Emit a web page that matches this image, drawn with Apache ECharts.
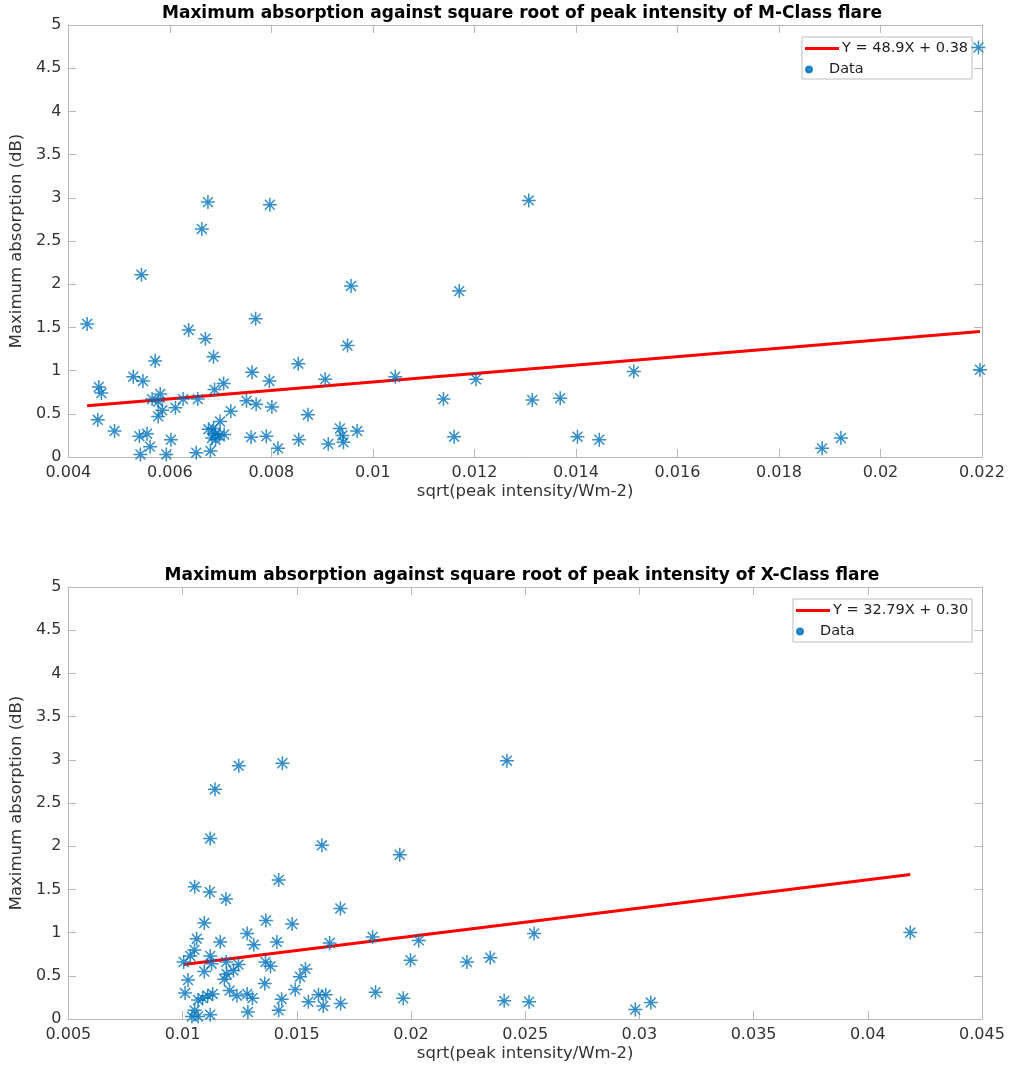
<!DOCTYPE html>
<html>
<head>
<meta charset="utf-8">
<script src="https://cdn.jsdelivr.net/npm/echarts@6/dist/echarts.min.js"></script>
<style>
  html, body { margin: 0; padding: 0; background: #ffffff; }
  #chart { width: 1009px; height: 1074px; }
</style>
</head>
<body>
<div id="chart"></div>
<script>
// ---- M-class flares: sqrt(peak intensity) vs maximum absorption (dB)
const mClassX = [
  0.00675, 0.00797, 0.00663, 0.00544, 0.00957, 0.00437, 0.00769, 0.00637, 0.00670, 0.00686,
  0.00950, 0.00571, 0.00853, 0.00528, 0.00460, 0.00465, 0.00547, 0.00762, 0.00796, 0.00906,
  0.00706, 0.00688, 0.00581, 0.00565, 0.00577, 0.00626, 0.00655, 0.00751, 0.00770, 0.00801,
  0.00611, 0.00585, 0.00577, 0.00720, 0.00872, 0.00458, 0.00491, 0.00699, 0.00676, 0.00686,
  0.00690, 0.00697, 0.00707, 0.00683, 0.00690, 0.00540, 0.00555, 0.00561, 0.00542, 0.00602,
  0.00593, 0.00652, 0.00680, 0.00760, 0.00790, 0.00813, 0.00854, 0.00912, 0.00935, 0.00940,
  0.00942, 0.00969, 0.01044, 0.01307, 0.01170, 0.01139, 0.01203, 0.01160, 0.01314, 0.01369,
  0.01403, 0.01446, 0.01514, 0.02193, 0.02196, 0.01885, 0.01922
];
const mClassY = [
  2.95, 2.92, 2.64, 2.11, 1.98, 1.54, 1.60, 1.47, 1.37, 1.16,
  1.29, 1.11, 1.08, 0.93, 0.81, 0.74, 0.88, 0.98, 0.88, 0.90,
  0.85, 0.78, 0.73, 0.67, 0.64, 0.67, 0.67, 0.65, 0.61, 0.58,
  0.57, 0.54, 0.47, 0.53, 0.49, 0.43, 0.30, 0.41, 0.32, 0.33,
  0.27, 0.25, 0.26, 0.22, 0.20, 0.24, 0.27, 0.12, 0.03, 0.20,
  0.03, 0.05, 0.07, 0.23, 0.24, 0.10, 0.20, 0.15, 0.33, 0.25,
  0.17, 0.30, 0.93, 2.97, 1.92, 0.67, 0.90, 0.235, 0.66, 0.68,
  0.235, 0.20, 0.99, 4.74, 1.01, 0.10, 0.22
];
const mClassSlope = 48.9;
const mClassIntercept = 0.38;
const mClassTicksX = [0.004, 0.006, 0.008, 0.01, 0.012, 0.014, 0.016, 0.018, 0.02, 0.022];

// ---- X-class flares
const xClassX = [
  0.01142, 0.01121, 0.01053, 0.01119, 0.01190, 0.01421, 0.01610, 0.01095, 0.01365, 0.01480,
  0.01062, 0.01165, 0.01283, 0.01312, 0.01413, 0.01052, 0.01034, 0.01005, 0.01121, 0.01127,
  0.01191, 0.01245, 0.01363, 0.01385, 0.01095, 0.01223, 0.01193, 0.01183, 0.01024, 0.01538,
  0.01514, 0.01493, 0.01360, 0.01011, 0.01206, 0.01238, 0.01283, 0.01306, 0.01132, 0.01110,
  0.01088, 0.01068, 0.01434, 0.01421, 0.01286, 0.01121, 0.01053, 0.01041, 0.01068, 0.01551,
  0.01595, 0.01627, 0.01616, 0.01692, 0.01951, 0.01691, 0.01644, 0.01832, 0.02034, 0.01998,
  0.02245, 0.02347, 0.02539, 0.01845, 0.01966, 0.02408, 0.02517, 0.04186, 0.02982, 0.03050,
  0.01246, 0.01437, 0.02420
];
const xClassY = [
  2.66, 2.09, 1.53, 1.47, 1.39, 1.61, 2.01, 1.11, 1.14, 1.10,
  0.93, 0.89, 0.99, 0.86, 0.89, 0.80, 0.73, 0.66, 0.73, 0.64,
  0.66, 0.63, 0.66, 0.61, 0.55, 0.56, 0.52, 0.46, 0.45, 0.58,
  0.49, 0.34, 0.41, 0.30, 0.33, 0.27, 0.29, 0.24, 0.29, 0.27,
  0.24, 0.22, 0.23, 0.10, 0.08, 0.05, 0.10, 0.03, 0.03, 0.20,
  0.28, 0.28, 0.15, 0.18, 1.90, 1.28, 0.88, 0.95, 0.91, 0.68,
  0.66, 0.71, 0.99, 0.31, 0.24, 0.21, 0.20, 1.00, 0.11, 0.19,
  2.93, 2.96, 2.99
];
const xClassSlope = 32.79;
const xClassIntercept = 0.30;
const xClassTicksX = [0.005, 0.01, 0.015, 0.02, 0.025, 0.03, 0.035, 0.04, 0.045];

const absorptionTicks = [0, 0.5, 1, 1.5, 2, 2.5, 3, 3.5, 4, 4.5, 5];

// ---- helpers
const FONT = 'DejaVu Sans';
const AXIS_GREY = '#b8b8b8';
const STAR = 'path://M0,-10L0,10M-10,0L10,0M-7.07,-7.07L7.07,7.07M-7.07,7.07L7.07,-7.07';

const pairs = (xs, ys) => xs.map((x, i) => [x, ys[i]]);
const fitLine = (xs, a, b) => {
  const lo = Math.min(...xs), hi = Math.max(...xs);
  return [[lo, a * lo + b], [hi, a * hi + b]];
};
const fmt = v => String(+(+v).toFixed(4));
const eqLabel = (a, b, digits) => 'Y = ' + a.toFixed(digits) + 'X + ' + b.toFixed(2);

function xAxes(ticks, gridIndex) {
  const step = +(ticks[1] - ticks[0]).toFixed(6);
  const base = {
    type: 'value', gridIndex,
    min: ticks[0], max: ticks[ticks.length - 1], interval: step,
    splitLine: { show: false },
    axisLine: { show: true, onZero: false, lineStyle: { color: AXIS_GREY, width: 1 } },
    axisTick: { show: true, inside: true, length: 8, lineStyle: { color: AXIS_GREY } }
  };
  return [
    Object.assign({}, base, {
      position: 'bottom',
      axisLabel: { show: true, formatter: fmt, color: '#333', fontFamily: FONT, fontSize: 16, margin: 8 },
      name: 'sqrt(peak intensity/Wm-2)', nameLocation: 'middle', nameGap: 26,
      nameTextStyle: { color: '#333', fontFamily: FONT, fontSize: 16.5 }
    }),
    Object.assign({}, base, { position: 'top', axisLabel: { show: false } })
  ];
}

function yAxes(gridIndex) {
  const base = {
    type: 'value', gridIndex,
    min: absorptionTicks[0], max: absorptionTicks[absorptionTicks.length - 1],
    interval: absorptionTicks[1] - absorptionTicks[0],
    splitLine: { show: false },
    axisLine: { show: true, onZero: false, lineStyle: { color: AXIS_GREY, width: 1 } },
    axisTick: { show: true, inside: true, length: 8, lineStyle: { color: AXIS_GREY } }
  };
  return [
    Object.assign({}, base, {
      position: 'left',
      axisLabel: { show: true, formatter: fmt, color: '#333', fontFamily: FONT, fontSize: 16, margin: 7 },
      name: 'Maximum absorption (dB)', nameLocation: 'middle', nameGap: 38,
      nameTextStyle: { color: '#333', fontFamily: FONT, fontSize: 16.5 }
    }),
    Object.assign({}, base, { position: 'right', axisLabel: { show: false } })
  ];
}

function legendPair(name, left, top) {
  return [
    {
      data: [name], left, top, padding: 0, icon: 'rect',
      itemWidth: 34, itemHeight: 3, itemGap: 0, selectedMode: false,
      textStyle: { color: '#222', fontFamily: FONT, fontSize: 14.5, padding: [0, 0, 0, -2] }
    },
    {
      data: ['Data'], left, top: top + 21, padding: 0, icon: 'circle',
      itemWidth: 34, itemHeight: 6, itemGap: 0, selectedMode: false,
      textStyle: { color: '#222', fontFamily: FONT, fontSize: 14.5, padding: [0, 0, 0, -2] }
    }
  ];
}

function legendBox(x, y, w, h) {
  return {
    type: 'rect', left: x, top: y, z: 3, silent: true,
    shape: { width: w, height: h },
    style: { fill: '#ffffff', stroke: '#bdbdbd', lineWidth: 1 }
  };
}

const mName = eqLabel(mClassSlope, mClassIntercept, 1);
const xName = eqLabel(xClassSlope, xClassIntercept, 2);

const titleStyle = { color: '#000', fontFamily: FONT, fontSize: 17, fontWeight: 'bold' };

const option = {
  animation: false,
  backgroundColor: '#ffffff',
  title: [
    { text: 'Maximum absorption against square root of peak intensity of M-Class flare',
      left: 522, top: 5, textAlign: 'center', textStyle: titleStyle, padding: 0 },
    { text: 'Maximum absorption against square root of peak intensity of X-Class flare',
      left: 522, top: 567, textAlign: 'center', textStyle: titleStyle, padding: 0 }
  ],
  grid: [
    { left: 66, top: 25, width: 916, height: 432 },
    { left: 66, top: 587, width: 916, height: 432 }
  ],
  xAxis: [...xAxes(mClassTicksX, 0), ...xAxes(xClassTicksX, 1)],
  yAxis: [...yAxes(0), ...yAxes(1)],
  legend: [...legendPair(mName, 805, 41), ...legendPair(xName, 796, 603)],
  graphic: [legendBox(801.5, 36.5, 170, 42), legendBox(792.5, 598.5, 179, 43)],
  series: [
    { type: 'line', name: mName, xAxisIndex: 0, yAxisIndex: 0,
      data: fitLine(mClassX, mClassSlope, mClassIntercept),
      symbol: 'none', color: '#ff0000', lineStyle: { color: '#ff0000', width: 3 }, z: 2 },
    { type: 'scatter', name: 'Data', xAxisIndex: 0, yAxisIndex: 0,
      data: pairs(mClassX, mClassY), symbol: STAR, symbolSize: 14, color: '#0072bd',
      itemStyle: { color: '#0072bd', borderColor: '#0072bd', borderWidth: 1.5 }, z: 3 },
    { type: 'line', name: xName, xAxisIndex: 2, yAxisIndex: 2,
      data: fitLine(xClassX, xClassSlope, xClassIntercept),
      symbol: 'none', color: '#ff0000', lineStyle: { color: '#ff0000', width: 3 }, z: 2 },
    { type: 'scatter', name: 'Data', xAxisIndex: 2, yAxisIndex: 2,
      data: pairs(xClassX, xClassY), symbol: STAR, symbolSize: 14, color: '#0072bd',
      itemStyle: { color: '#0072bd', borderColor: '#0072bd', borderWidth: 1.5 }, z: 3 }
  ]
};

const chart = echarts.init(document.getElementById('chart'), null, { renderer: 'canvas' });
chart.setOption(option);
</script>
</body>
</html>
